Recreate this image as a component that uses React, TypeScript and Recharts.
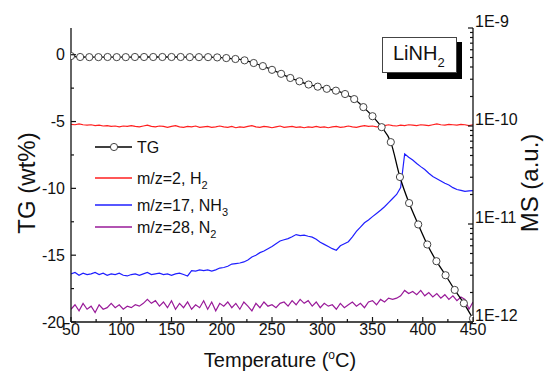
import React from 'react';
import { LineChart, Line, XAxis, YAxis } from 'recharts';

const FONT = '"Liberation Sans", Arial, Helvetica, sans-serif';

// Temperature grid for MS signals (°C)
const msTemps = [
  50, 54, 58, 62, 66, 70, 74, 78, 82, 86,
  90, 94, 98, 102, 106, 110, 114, 118, 122, 126,
  130, 134, 138, 142, 146, 150, 154, 158, 162, 166,
  170, 174, 178, 182, 186, 190, 194, 198, 202, 206,
  210, 214, 218, 222, 226, 230, 234, 238, 242, 246,
  250, 254, 258, 262, 266, 270, 274, 278, 282, 286,
  290, 294, 298, 302, 306, 310, 314, 318, 322, 326,
  330, 334, 338, 342, 346, 350, 354, 358, 362, 366,
  370, 374, 378, 382, 386, 390, 394, 398, 402, 406,
  410, 414, 418, 422, 426, 430, 434, 438, 442, 446,
  450,
];

// MS signals in units of 1E-12 (a.u.)
const h2 = [
  104, 103, 105, 103, 102, 103, 101, 102, 100, 101,
  99, 100, 98, 100, 99, 101, 99, 98, 100, 102,
  99, 98, 100, 99, 97, 99, 101, 98, 97, 99,
  98, 100, 97, 98, 99, 97, 98, 100, 98, 97,
  99, 96, 98, 97, 99, 101, 98, 97, 99, 98,
  96, 98, 100, 97, 98, 99, 97, 98, 96, 98,
  97, 99, 97, 98, 96, 98, 99, 97, 98, 100,
  98, 97, 99, 101, 99, 100, 98, 99, 101, 103,
  101, 100, 102, 101, 103, 102, 101, 103, 102, 101,
  103, 105, 103, 102, 104, 103, 102, 104, 103, 101,
  103,
];

const nh3 = [
  3.1, 3.2, 3.0, 3.15, 3.05, 3.1, 3.2, 3.05, 3.15, 3.0,
  3.1, 3.05, 3.15, 3.0, 2.95, 3.05, 3.1, 3.0, 3.1, 3.2,
  3.05, 3.1, 3.15, 3.05, 3.1, 3.0, 3.1, 3.15, 3.05, 2.95,
  3.35, 3.3, 3.4, 3.35, 3.4, 3.3, 3.4, 3.55, 3.6, 3.7,
  3.9, 3.95, 4.0, 4.1, 4.3, 4.6, 4.8, 5.1, 5.3, 5.6,
  5.9, 6.3, 6.7, 6.9, 7.1, 7.4, 7.8, 7.6, 7.7, 7.5,
  7.35, 7.0, 6.5, 6.2, 5.9, 5.6, 5.4, 6.0, 6.3, 6.6,
  7.4, 8.4, 9.3, 10.3, 11.0, 11.9, 12.8, 13.8, 15.0, 16.5,
  18.2, 20.0, 23.5, 52, 48, 45, 41.5, 38.5, 36, 33,
  30.5, 29, 27.5, 26, 25, 23.5, 22.5, 22, 21.5, 21.8,
  21.9,
];

const n2 = [
  1.35, 1.5, 1.3, 1.55, 1.35, 1.45, 1.25, 1.5, 1.35, 1.4,
  1.55, 1.4, 1.5, 1.35, 1.45, 1.4, 1.5, 1.45, 1.55, 1.7,
  1.55, 1.65, 1.45, 1.6, 1.4, 1.65, 1.35, 1.55, 1.4, 1.6,
  1.35, 1.5, 1.4, 1.65, 1.35, 1.6, 1.3, 1.55, 1.45, 1.6,
  1.4, 1.55, 1.35, 1.6, 1.45, 1.3, 1.55, 1.4, 1.6, 1.45,
  1.5, 1.4, 1.55, 1.6, 1.45, 1.65, 1.5, 1.7, 1.55, 1.65,
  1.45, 1.6, 1.4, 1.55, 1.45, 1.5, 1.35, 1.55, 1.4, 1.5,
  1.6, 1.45, 1.55, 1.4, 1.6, 1.65, 1.5, 1.7, 1.6, 1.75,
  1.7, 1.75, 1.85, 2.1, 1.95, 2.05, 1.9, 2.1, 1.85, 2.0,
  1.8, 1.95, 1.75, 1.9, 1.7, 1.85, 1.65, 1.8, 1.7, 1.35,
  1.6,
];

// TG marker temperatures and weight loss (wt%)
const tgTemps = [
  50, 59.1, 68.2, 77.3, 86.4, 95.5, 104.5, 113.6, 122.7, 131.8,
  140.9, 150, 159.1, 168.2, 177.3, 186.4, 195.5, 204.5, 213.6, 222.7,
  231.8, 240.9, 250, 259.1, 268.2, 277.3, 286.4, 295.5, 304.5, 313.6,
  322.7, 331.8, 340.9, 350, 359.1, 368.2, 377.3, 386.4, 395.5, 404.5,
  413.6, 422.7, 431.8, 440.9, 450,
];
const tgValues = [
  -0.1, -0.17, -0.18, -0.18, -0.17, -0.18, -0.18, -0.17, -0.17, -0.17,
  -0.17, -0.17, -0.17, -0.18, -0.18, -0.18, -0.2, -0.25, -0.32, -0.42,
  -0.62, -0.85, -1.13, -1.43, -1.74, -1.99, -2.23, -2.39, -2.55, -2.69,
  -2.94, -3.32, -3.92, -4.6, -5.42, -6.54, -9.15, -11.1, -12.7, -14.2,
  -15.45, -16.5, -17.6, -18.6, -19.75,
];

const xTicks = [50, 75, 100, 125, 150, 175, 200, 225, 250, 275, 300, 325, 350, 375, 400, 425, 450];
const leftTicks = [-20, -17.5, -15, -12.5, -10, -7.5, -5, -2.5, 0];
const rightTicks = [
  1, 2, 3, 4, 5, 6, 7, 8, 9,
  10, 20, 30, 40, 50, 60, 70, 80, 90,
  100, 200, 300, 400, 500, 600, 700, 800, 900,
  1000,
];
const rightLabels: Record<number, string> = { 1: '1E-12', 10: '1E-11', 100: '1E-10', 1000: '1E-9' };

const h2Data = msTemps.map((t, i) => ({ t, v: h2[i] }));
const nh3Data = msTemps.map((t, i) => ({ t, v: nh3[i] }));
const n2Data = msTemps.map((t, i) => ({ t, v: n2[i] }));
const tgData = tgTemps.map((t, i) => ({ t, tg: tgValues[i] }));

const AX = '#111';
const RED = '#ff1f1f';
const BLUE = '#1f1fff';
const PURPLE = '#991a99';

const BottomTick = (props: any) => {
  const { x, y, payload } = props;
  const v = payload.value;
  const major = v % 50 === 0;
  return (
    <g>
      <line x1={x} x2={x} y1={y} y2={y - (major ? 5 : 3)} stroke={AX} strokeWidth={1.2} />
      {major && (
        <text x={x} y={y + 12.5} textAnchor="middle" fontSize={16} fill={AX} fontFamily={FONT}>
          {v}
        </text>
      )}
    </g>
  );
};

const LeftTick = (props: any) => {
  const { x, y, payload } = props;
  const v = payload.value;
  const major = Math.abs(v % 5) < 1e-6;
  return (
    <g>
      <line x1={x} x2={x + (major ? 5 : 3)} y1={y} y2={y} stroke={AX} strokeWidth={1.2} />
      {major && (
        <text x={x - 6} y={y + 5.6} textAnchor="end" fontSize={16} fill={AX} fontFamily={FONT}>
          {v}
        </text>
      )}
    </g>
  );
};

const RightTick = (props: any) => {
  const { x, y, payload } = props;
  const v = payload.value;
  const label = rightLabels[v];
  return (
    <g>
      <line x1={x} x2={x - (label ? 5 : 3)} y1={y} y2={y} stroke={AX} strokeWidth={1.2} />
      {label && (
        <text x={x + 2} y={y - 1} textAnchor="start" fontSize={16} fill={AX} fontFamily={FONT}>
          {label}
        </text>
      )}
    </g>
  );
};

const Overlay = () => (
  <svg width={544} height={372} style={{ position: 'absolute', left: 0, top: 0, pointerEvents: 'none' }}>
    {/* axis titles */}
    <text x={280} y={367} textAnchor="middle" fontSize={20} fill={AX} fontFamily={FONT}>
      Temperature (<tspan dy={-8} fontSize={12}>o</tspan>
      <tspan dy={8}>C)</tspan>
    </text>
    <text transform="translate(26,183) rotate(-90)" textAnchor="middle" dy="0.36em" fontSize={24} fill={AX} fontFamily={FONT}>
      TG (wt%)
    </text>
    <text transform="translate(529,183) rotate(-90)" textAnchor="middle" dy="0.36em" fontSize={24} fill={AX} fontFamily={FONT}>
      MS (a.u.)
    </text>

    {/* annotation box */}
    <rect x={387} y={42} width={75} height={37} fill="#000" />
    <rect x={382.5} y={37.5} width={74} height={35} fill="#fff" stroke="#444" strokeWidth={1} />
    <text x={393} y={60} fontSize={20} fill={AX} fontFamily={FONT}>
      LiNH<tspan dy={7} fontSize={13}>2</tspan>
    </text>

    {/* legend */}
    <line x1={95} x2={132} y1={147} y2={147} stroke="#000" strokeWidth={1.3} />
    <circle cx={114} cy={147} r={3.6} fill="#fff" stroke="#444" strokeWidth={1} />
    <text x={137} y={153} fontSize={16} fill={AX} fontFamily={FONT}>TG</text>

    <line x1={95} x2={132} y1={178} y2={178} stroke={RED} strokeWidth={1.3} />
    <text x={137} y={184} fontSize={16} fill={AX} fontFamily={FONT}>
      m/z=2, H<tspan dy={5} fontSize={11}>2</tspan>
    </text>

    <line x1={95} x2={132} y1={205} y2={205} stroke={BLUE} strokeWidth={1.3} />
    <text x={137} y={211} fontSize={16} fill={AX} fontFamily={FONT}>
      m/z=17, NH<tspan dy={5} fontSize={11}>3</tspan>
    </text>

    <line x1={95} x2={132} y1={227} y2={227} stroke={PURPLE} strokeWidth={1.3} />
    <text x={137} y={233} fontSize={16} fill={AX} fontFamily={FONT}>
      m/z=28, N<tspan dy={5} fontSize={11}>2</tspan>
    </text>
  </svg>
);

export default function App() {
  return (
    <div style={{ position: 'absolute', left: 0, top: 0, width: 544, height: 372, background: '#fff' }}>
      <LineChart width={544} height={372} margin={{ top: 28, right: 0, bottom: 0, left: 0 }}>
        <XAxis
          xAxisId="b"
          dataKey="t"
          type="number"
          domain={[50, 450]}
          ticks={xTicks}
          interval={0}
          allowDataOverflow
          height={50}
          tickSize={0}
          tickMargin={0}
          tickLine={false}
          axisLine={{ stroke: AX, strokeWidth: 1.3 }}
          tick={<BottomTick />}
        />
        <XAxis
          xAxisId="top"
          orientation="top"
          type="number"
          domain={[50, 450]}
          height={0}
          tick={false}
          tickLine={false}
          axisLine={{ stroke: AX, strokeWidth: 1.3 }}
        />
        <YAxis
          yAxisId="l"
          type="number"
          domain={[-20, 2]}
          ticks={leftTicks}
          interval={0}
          allowDataOverflow
          width={71}
          tickSize={0}
          tickMargin={0}
          tickLine={false}
          axisLine={{ stroke: AX, strokeWidth: 1.3 }}
          tick={<LeftTick />}
        />
        <YAxis
          yAxisId="r"
          orientation="right"
          type="number"
          scale="log"
          domain={[1, 1000]}
          ticks={rightTicks}
          interval={0}
          allowDataOverflow
          width={71}
          tickSize={0}
          tickMargin={0}
          tickLine={false}
          axisLine={{ stroke: AX, strokeWidth: 1.3 }}
          tick={<RightTick />}
        />
        <Line xAxisId="b" yAxisId="r" data={h2Data} dataKey="v" type="linear" stroke={RED} strokeWidth={1.2} dot={false} isAnimationActive={false} />
        <Line xAxisId="b" yAxisId="r" data={nh3Data} dataKey="v" type="linear" stroke={BLUE} strokeWidth={1.2} dot={false} isAnimationActive={false} />
        <Line xAxisId="b" yAxisId="r" data={n2Data} dataKey="v" type="linear" stroke={PURPLE} strokeWidth={1.2} dot={false} isAnimationActive={false} />
        <Line
          xAxisId="b"
          yAxisId="l"
          data={tgData}
          dataKey="tg"
          type="monotone"
          stroke="#000"
          strokeWidth={1.3}
          dot={{ r: 3.6, fill: '#fff', stroke: '#444', strokeWidth: 1 }}
          isAnimationActive={false}
        />
      </LineChart>
      <Overlay />
    </div>
  );
}
